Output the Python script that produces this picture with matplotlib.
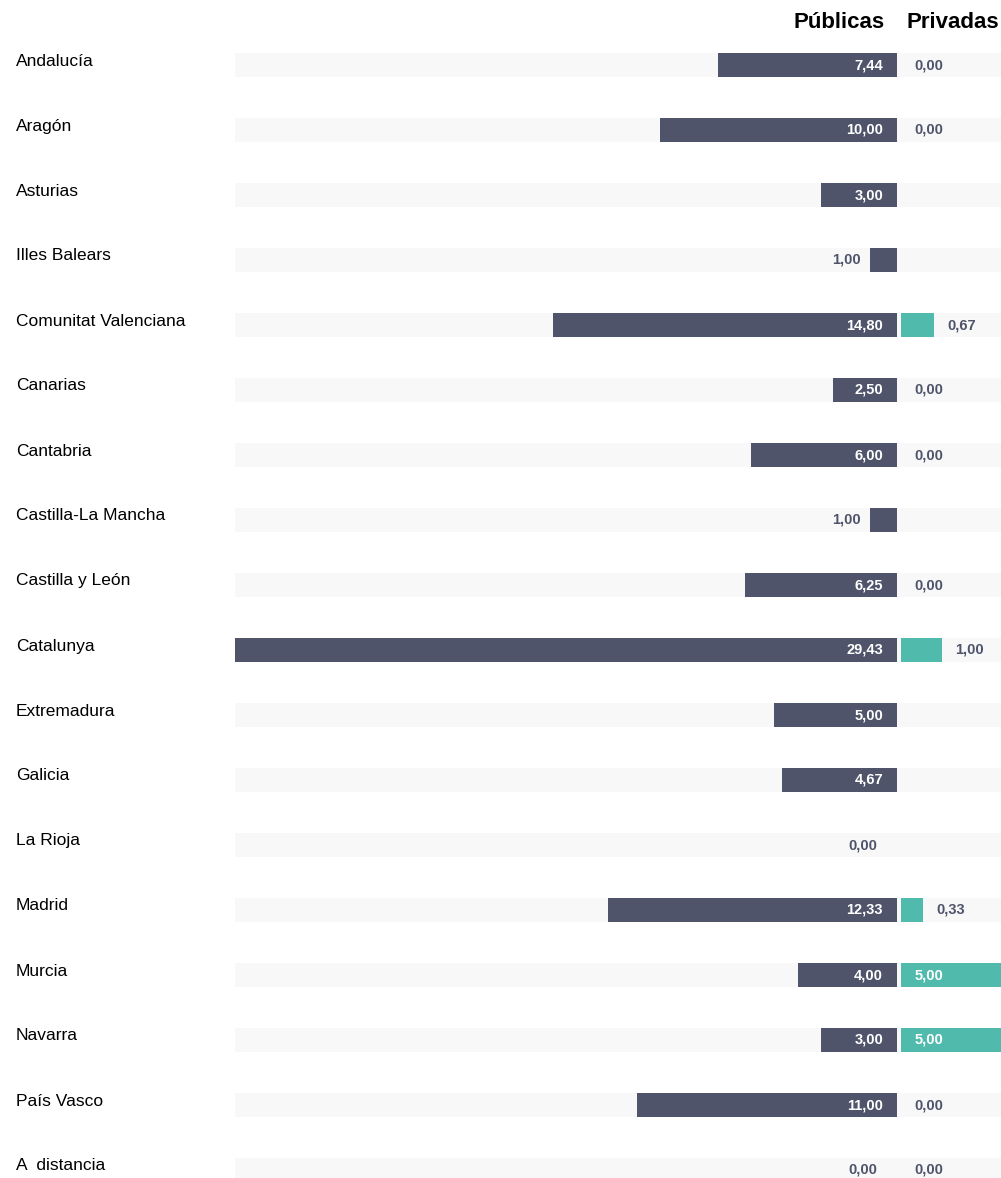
import numpy as np
import matplotlib
matplotlib.use("Agg")
import matplotlib.pyplot as plt
from matplotlib.transforms import offset_copy

plt.rcParams['font.family'] = ['Liberation Sans', 'DejaVu Sans']

# --- data ---
regions = ["Andalucía", "Aragón", "Asturias", "Illes Balears", "Comunitat Valenciana",
           "Canarias", "Cantabria", "Castilla-La Mancha", "Castilla y León", "Catalunya",
           "Extremadura", "Galicia", "La Rioja", "Madrid", "Murcia", "Navarra",
           "País Vasco", "A  distancia"]
publicas = [7.44, 10.00, 3.00, 1.00, 14.80, 2.50, 6.00, 1.00, 6.25, 29.43,
            5.00, 4.67, 0.00, 12.33, 4.00, 3.00, 11.00, 0.00]
privadas = [0.00, 0.00, None, None, 0.67, 0.00, 0.00, None, 0.00, 1.00,
            None, None, None, 0.33, 5.00, 5.00, 0.00, 0.00]

DARK = "#4f546b"
TEAL = "#50bbad"
BG = "#f8f8f8"

W, H = 1001, 1178
fig = plt.figure(figsize=(W / 100, H / 100), dpi=100)

y = np.arange(len(regions))
ylim = ((H - 65) / 65, -1)
bar_h = 0.37


def power_scale(p):
    fwd = lambda x: np.sign(x) * np.abs(x) ** p
    inv = lambda x: np.sign(x) * np.abs(x) ** (1 / p)
    return fwd, inv


def make_ax(x0, x1):
    ax = fig.add_axes([x0 / W, 0, (x1 - x0) / W, 1])
    ax.set_ylim(*ylim)
    ax.axis("off")
    return ax


# background bands
ax_bg = make_ax(235, 1001)
ax_bg.set_xlim(0, 1)
ax_bg.barh(y, 1, height=bar_h, color=BG, left=0)

# public bars (grow to the left)
ax_pub = make_ax(235, 897)
ax_pub.patch.set_alpha(0)
ax_pub.set_xscale("function", functions=power_scale(0.95))
ax_pub.set_xlim(29.45, 0)
ax_pub.barh(y, publicas, height=bar_h, color=DARK)

for yi, v in zip(y, publicas):
    txt = f"{v:.2f}".replace(".", ",")
    if v >= 2:
        tr = offset_copy(ax_pub.transData, fig=fig, x=-14, y=0, units="dots")
        ax_pub.text(0, yi, txt, transform=tr, ha="right", va="center",
                    color="white", fontsize=10.5, fontweight="bold")
    else:
        dx = -20 if v == 0 else -10
        tr = offset_copy(ax_pub.transData, fig=fig, x=dx, y=0, units="dots")
        ax_pub.text(v, yi, txt, transform=tr, ha="right", va="center",
                    color=DARK, fontsize=10.5, fontweight="bold")

# private bars
ax_pri = make_ax(901, 1001)
ax_pri.patch.set_alpha(0)
ax_pri.set_xscale("function", functions=power_scale(0.55))
ax_pri.set_xlim(0, 5)
pv = [np.nan if v is None else v for v in privadas]
ax_pri.barh(y, pv, height=bar_h, color=TEAL)

for yi, v in zip(y, privadas):
    if v is None:
        continue
    txt = f"{v:.2f}".replace(".", ",")
    if v >= 2:
        tr = offset_copy(ax_pri.transData, fig=fig, x=14, y=0, units="dots")
        ax_pri.text(0, yi, txt, transform=tr, ha="left", va="center",
                    color="white", fontsize=10.5, fontweight="bold")
    else:
        tr = offset_copy(ax_pri.transData, fig=fig, x=13, y=0, units="dots")
        ax_pri.text(v, yi, txt, transform=tr, ha="left", va="center",
                    color=DARK, fontsize=10.5, fontweight="bold", clip_on=False)

# region names
ax_lab = make_ax(0, 235)
ax_lab.set_xlim(0, 235)
for yi, name in zip(y, regions):
    tr = offset_copy(ax_lab.transData, fig=fig, x=0, y=4, units="dots")
    ax_lab.text(16, yi, name, transform=tr, ha="left", va="center",
                color="black", fontsize=12.5)

# headers
fig.text(885 / W, 1 - 22 / H, "Públicas", ha="right", va="center",
         fontsize=16, fontweight="bold", color="black")
fig.text(907 / W, 1 - 22 / H, "Privadas", ha="left", va="center",
         fontsize=16, fontweight="bold", color="black")

fig.savefig("out.png", dpi=100, facecolor="white")
